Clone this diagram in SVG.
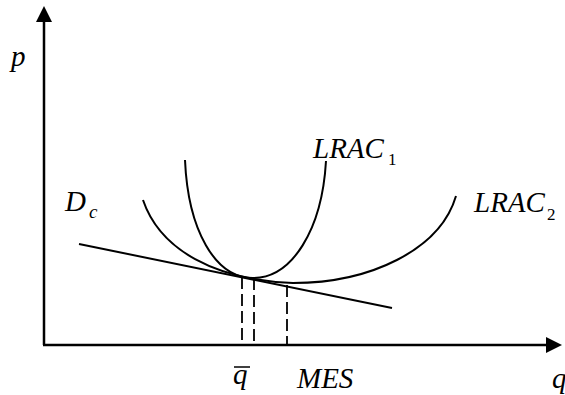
<svg xmlns="http://www.w3.org/2000/svg" width="565" height="395" viewBox="0 0 565 395">
<style>
.ax{stroke:#000;stroke-width:2.5;fill:none}
.cv{stroke:#000;stroke-width:2;fill:none}
.ds{stroke:#000;stroke-width:1.8;fill:none;stroke-dasharray:12,5}
.t{font-family:'Liberation Serif','Times New Roman',serif;font-style:italic;font-size:29px;fill:#000}
.s{font-family:'Liberation Serif','Times New Roman',serif;font-size:17px;fill:#000}
.si{font-family:'Liberation Serif','Times New Roman',serif;font-style:italic;font-size:19px;fill:#000}
</style>
<rect width="565" height="395" fill="#fff"/>
<g id="axes">
<line class="ax" x1="44" y1="345" x2="44" y2="20"/>
<polygon points="44,6 36,22 52,22" fill="#000"/>
<line class="ax" x1="43" y1="345" x2="548" y2="345"/>
<polygon points="562,345 546,337 546,353" fill="#000"/>
<text class="t" x="11" y="66">p</text>
<text class="t" x="552" y="388">q</text>
</g>
<g id="connectors">
<line class="cv" x1="79" y1="244" x2="392" y2="308"/>
<line class="ds" x1="242" y1="277" x2="242" y2="345"/>
<line class="ds" x1="254" y1="278" x2="254" y2="345"/>
<line class="ds" x1="287" y1="285" x2="287" y2="345"/>
</g>
<g id="LRAC1">
<path class="cv" d="M185,160 C188,230 215,278 253,278 C292,278 322,230 326,161"/>
<text class="t" x="313" y="158">LRAC</text>
<text class="s" x="388" y="165">1</text>
</g>
<g id="LRAC2">
<path class="cv" d="M143,200 C160,250 215,280 293,283 C370,283 440,250 456,196"/>
<text class="t" x="474" y="212">LRAC</text>
<text class="s" x="547" y="220">2</text>
</g>
<g id="Dc">
<text class="t" x="65" y="211">D</text>
<text class="si" x="89" y="218">c</text>
</g>
<g id="labels">
<text class="t" x="233" y="384">q</text>
<line x1="234" y1="367" x2="250" y2="367" stroke="#000" stroke-width="1.5"/>
<text class="t" x="297" y="388">MES</text>
</g>
</svg>
